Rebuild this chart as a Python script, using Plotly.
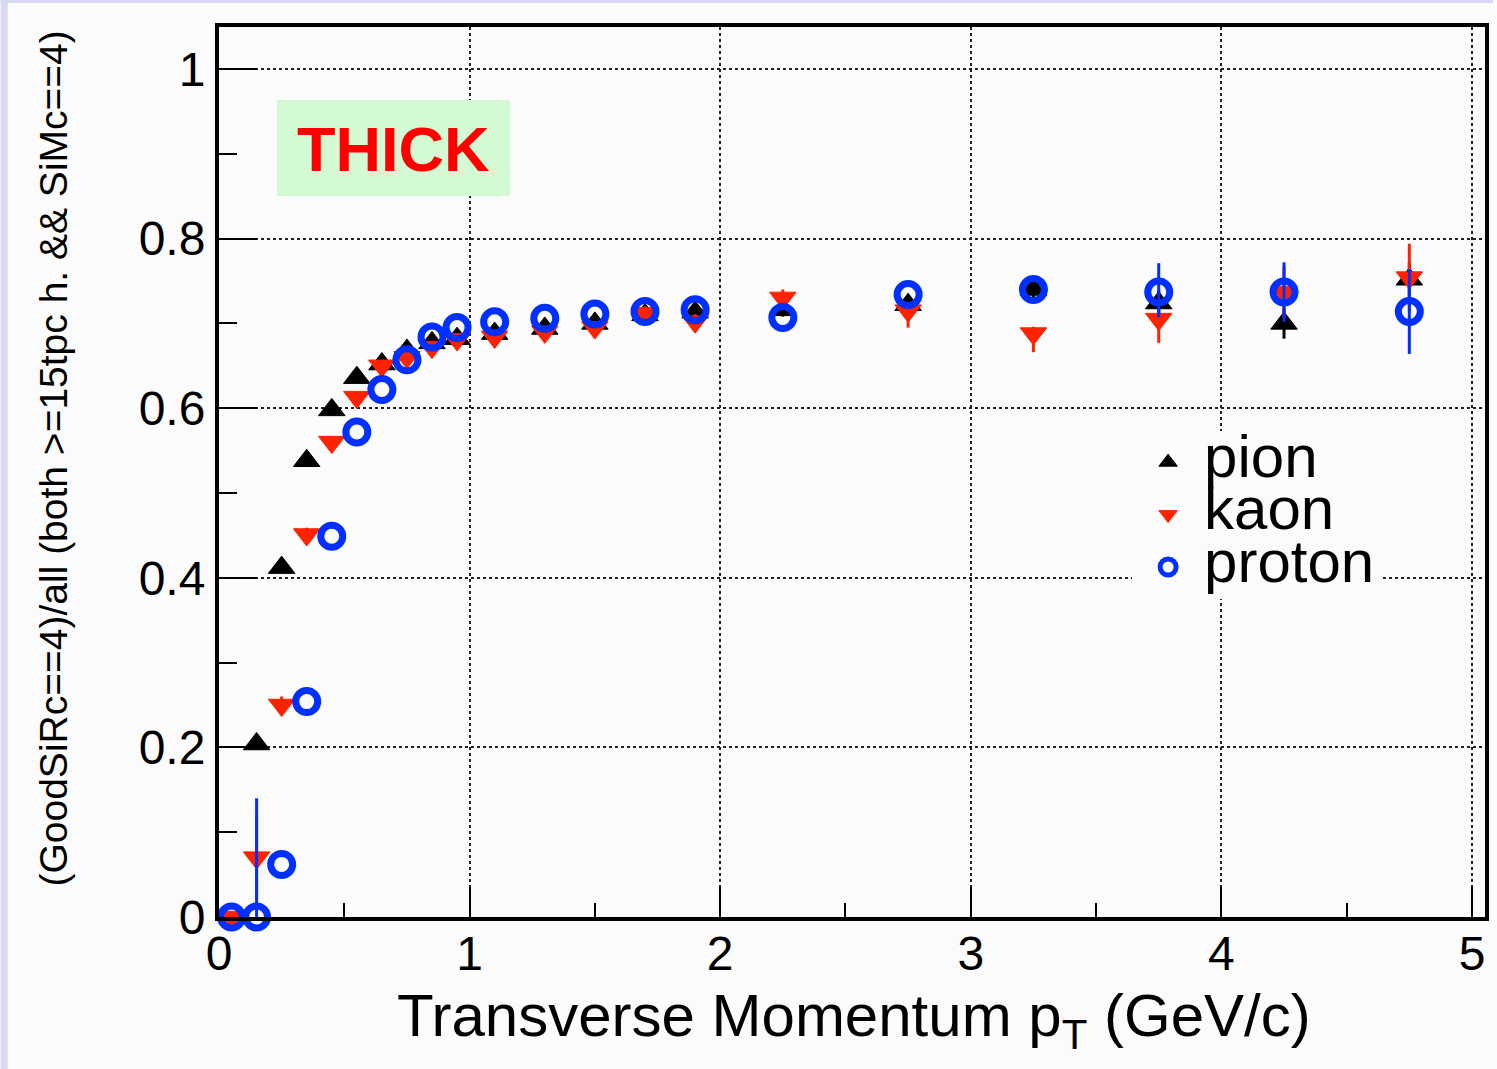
import plotly.graph_objects as go

# ---------------- data ----------------
pt = [0.05, 0.15, 0.25, 0.35, 0.45, 0.55, 0.65, 0.75, 0.85, 0.95,
      1.1, 1.3, 1.5, 1.7, 1.9, 2.25, 2.75, 3.25, 3.75, 4.25, 4.75]

pion = [None, 0.204, 0.412, 0.538, 0.598, 0.636, 0.652, 0.668, 0.677, 0.682,
        0.688, 0.694, 0.700, 0.710, 0.713, 0.716, 0.722, 0.740, 0.724, 0.700, 0.752]
pion_err = [0.0, 0.005, 0.005, 0.005, 0.005, 0.005, 0.005, 0.005, 0.005, 0.005,
            0.005, 0.005, 0.006, 0.007, 0.008, 0.008, 0.010, 0.012, 0.015, 0.018, 0.020]

kaon = [0.0, 0.070, 0.250, 0.451, 0.560, 0.613, 0.650, 0.660, 0.672, 0.681,
        0.684, 0.690, 0.695, 0.712, 0.702, 0.730, 0.715, 0.688, 0.705, 0.737, 0.754]
kaon_err = [0.0, 0.050, 0.010, 0.008, 0.007, 0.006, 0.006, 0.006, 0.006, 0.006,
            0.006, 0.006, 0.007, 0.008, 0.009, 0.010, 0.008, 0.008, 0.010, 0.030, 0.040]
kaon_err_lo = [0.0, 0.050, 0.010, 0.008, 0.007, 0.006, 0.006, 0.006, 0.006, 0.006,
               0.006, 0.006, 0.007, 0.008, 0.009, 0.010, 0.020, 0.022, 0.028, 0.030, 0.040]

proton = [0.0, 0.0, 0.062, 0.254, 0.449, 0.572, 0.622, 0.657, 0.684, 0.695,
          0.702, 0.706, 0.711, 0.714, 0.716, 0.707, 0.734, 0.740, 0.737, 0.737, 0.714]
proton_err = [0.0, 0.140, 0.0, 0.0, 0.0, 0.0, 0.0, 0.0, 0.0, 0.0,
              0.0, 0.0, 0.0, 0.0, 0.0, 0.0, 0.0, 0.0, 0.034, 0.035, 0.050]
proton_err_lo = [0.0, 0.0, 0.0, 0.0, 0.0, 0.0, 0.0, 0.0, 0.0, 0.0,
                 0.0, 0.0, 0.0, 0.0, 0.0, 0.0, 0.0, 0.0, 0.030, 0.035, 0.050]

y_ticks = [0, 0.2, 0.4, 0.6, 0.8, 1.0]
y_ticklabels = ["0", "0.2", "0.4", "0.6", "0.8", "1"]
x_ticks = [0, 1, 2, 3, 4, 5]
x_ticklabels = ["0", "1", "2", "3", "4", "5"]

names = ["pion", "kaon", "proton"]

# ---------------- style ----------------
FONT = "Liberation Sans, Arial, Helvetica, sans-serif"
BG = "#fbfbfb"
C_PION = "#000000"
C_KAON = "#ff2200"
C_PROTON = "#0030ff"

W, H = 1497, 1069
ML, MR, MT, MB = 219, 8, 27, 152
PW = W - ML - MR
PH = H - MT - MB


def px_x(px):
    return (px - ML) / PW


def px_y(py):
    return (H - MB - py) / PH


def leg_name(s):
    return '<span style="font-size:60px">' + s + '</span>'


fig = go.Figure()

fig.add_trace(go.Scatter(
    x=pt, y=pion, mode="markers", name=leg_name(names[0]),
    marker=dict(symbol="triangle-up", size=23, color=C_PION,
                line=dict(width=1, color=C_PION)),
    error_y=dict(type="data", array=pion_err, color=C_PION, thickness=3, width=0),
    cliponaxis=False,
))
fig.add_trace(go.Scatter(
    x=pt, y=kaon, mode="markers", name=leg_name(names[1]),
    marker=dict(symbol="triangle-down", size=23, color=C_KAON,
                line=dict(width=1, color=C_KAON)),
    error_y=dict(type="data", array=kaon_err, arrayminus=kaon_err_lo, symmetric=False,
                 color=C_KAON, thickness=3, width=0),
    cliponaxis=False,
))
fig.add_trace(go.Scatter(
    x=pt, y=proton, mode="markers", name=leg_name(names[2]),
    marker=dict(symbol="circle-open", size=22, color=C_PROTON,
                line=dict(width=7, color=C_PROTON)),
    error_y=dict(type="data", array=proton_err, arrayminus=proton_err_lo, symmetric=False,
                 color=C_PROTON, thickness=3, width=0),
    cliponaxis=False,
))

axis_common = dict(
    showline=True, linewidth=4, linecolor="black", mirror=True,
    ticks="inside", tickwidth=2, tickcolor="black",
    showgrid=True, gridcolor="#222222", gridwidth=1.5, griddash="dot",
    zeroline=False,
    tickfont=dict(family=FONT, size=48, color="black"),
)

fig.update_xaxes(
    range=[0, 5.052], tickvals=x_ticks, ticktext=x_ticklabels, ticklen=30,
    minor=dict(dtick=0.5, ticklen=14, tickwidth=2, tickcolor="black",
               ticks="inside", showgrid=False),
    ticklabelstandoff=-9,
    **axis_common,
)
fig.update_yaxes(
    range=[0, 1.0495], tickvals=y_ticks, ticktext=y_ticklabels, ticklen=38,
    minor=dict(dtick=0.1, ticklen=18, tickwidth=2, tickcolor="black",
               ticks="inside", showgrid=False),
    ticklabelstandoff=0,
    **axis_common,
)

fig.update_layout(
    width=W, height=H,
    margin=dict(l=ML, r=MR, t=MT, b=MB),
    paper_bgcolor=BG, plot_bgcolor=BG,
    font=dict(family=FONT, color="black"),
    showlegend=True,
    legend=dict(
        x=px_x(1135), y=px_y(431), xanchor="left", yanchor="top",
        bgcolor=BG, borderwidth=0, itemwidth=62,
        font=dict(family=FONT, size=38, color="black"),
        itemclick=False, itemdoubleclick=False,
    ),
    shapes=[
        # lavender page strips
        dict(type="rect", xref="paper", yref="paper",
             x0=px_x(0), x1=px_x(7), y0=px_y(H), y1=px_y(0),
             fillcolor="#d8d8f4", line=dict(width=0), layer="above"),
        dict(type="rect", xref="paper", yref="paper",
             x0=px_x(0), x1=px_x(W), y0=px_y(3), y1=px_y(0),
             fillcolor="#d8d8f4", line=dict(width=0), layer="above"),
        # THICK label box
        dict(type="rect", xref="paper", yref="paper",
             x0=px_x(277), x1=px_x(511), y0=px_y(196), y1=px_y(100),
             fillcolor="#d4fad4", line=dict(width=0), layer="above"),
    ],
    annotations=[
        dict(text="<b>THICK</b>", xref="paper", yref="paper",
             x=px_x(394), y=px_y(149), xanchor="center", yanchor="middle",
             showarrow=False, font=dict(family=FONT, size=63, color="#ff0000")),
        dict(text="Transverse Momentum p<sub>T</sub> (GeV/c)", xref="paper", yref="paper",
             x=px_x(856), y=px_y(1020), xanchor="center", yanchor="middle",
             showarrow=False, font=dict(family=FONT, size=60, color="black")),
        dict(text="(GoodSiRc==4)/all (both >=15tpc h. && SiMc==4)", xref="paper", yref="paper",
             x=px_x(52), y=px_y(459), xanchor="center", yanchor="middle", textangle=-90,
             showarrow=False, font=dict(family=FONT, size=39, color="black")),
    ],
)

fig.write_html(
    "out.html",
    config={"displayModeBar": False},
    post_script="document.body.style.margin='0px';document.body.style.overflow='hidden';",
)
